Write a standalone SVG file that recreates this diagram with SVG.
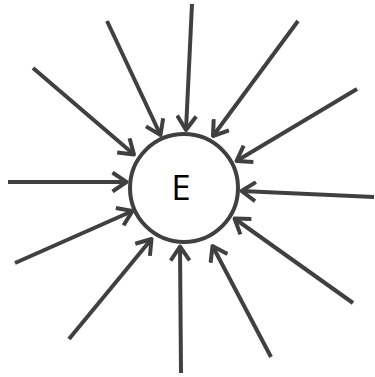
<svg xmlns="http://www.w3.org/2000/svg" width="375" height="377" viewBox="0 0 375 377">
<defs>
<style>
.c{stroke:#404040;stroke-width:4;fill:none;stroke-linecap:butt}
.node{fill:#fff;stroke:#404040;stroke-width:4}
.lbl{font-family:"Open Sans","Liberation Sans",sans-serif;font-size:35px;fill:#000}
</style>
<marker id="arr" viewBox="-16 -11 18 22" refX="0" refY="0" markerWidth="18" markerHeight="22" markerUnits="userSpaceOnUse" orient="auto">
<path d="M -14 -9.5 L 0 0 L -14 9.5" fill="none" stroke="#404040" stroke-width="4" stroke-linejoin="round" stroke-linecap="butt"/>
</marker>
</defs>
<g id="connectors">
<line class="c" marker-end="url(#arr)" x1="192" y1="4" x2="186" y2="130"/>
<line class="c" marker-end="url(#arr)" x1="107" y1="21" x2="160.5" y2="135"/>
<line class="c" marker-end="url(#arr)" x1="298" y1="21" x2="213" y2="136"/>
<line class="c" marker-end="url(#arr)" x1="33" y1="68" x2="134" y2="154.5"/>
<line class="c" marker-end="url(#arr)" x1="357" y1="89" x2="236.5" y2="161"/>
<line class="c" marker-end="url(#arr)" x1="8" y1="182" x2="126.5" y2="182"/>
<line class="c" marker-end="url(#arr)" x1="374" y1="197" x2="241.5" y2="191"/>
<line class="c" marker-end="url(#arr)" x1="15" y1="263" x2="132.5" y2="211"/>
<line class="c" marker-end="url(#arr)" x1="353" y1="303" x2="234.5" y2="218.5"/>
<line class="c" marker-end="url(#arr)" x1="69" y1="339" x2="151.5" y2="239"/>
<line class="c" marker-end="url(#arr)" x1="181" y1="373" x2="180" y2="246.5"/>
<line class="c" marker-end="url(#arr)" x1="271" y1="357" x2="212.5" y2="246"/>
</g>
<g id="E">
<circle class="node" cx="184" cy="188" r="54"/>
<text class="lbl" x="181" y="200" text-anchor="middle">E</text>
</g>
</svg>
